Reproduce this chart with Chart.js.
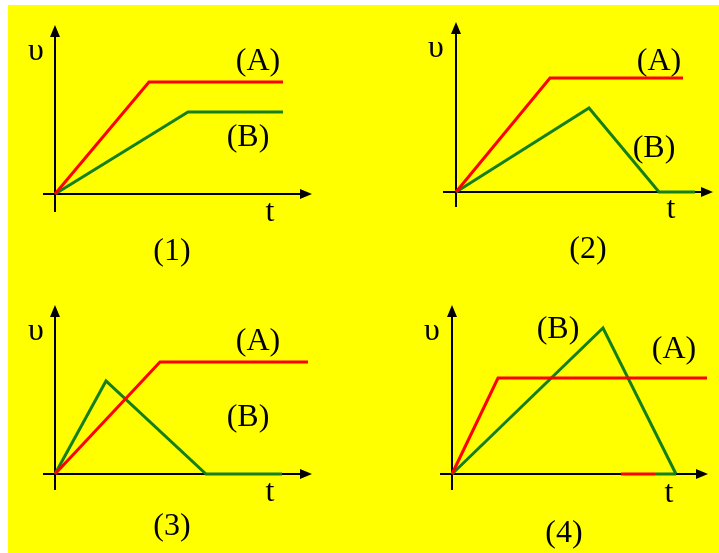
<!DOCTYPE html>
<html lang="en">
<head>
    <meta charset="UTF-8">
    <title>v-t graphs</title>
    <style>
        body {
            margin: 0;
            background-color: #fff;
        }

        .board {
            position: relative;
            width: 719px;
            height: 553px;
            background-color: #fff;
            overflow: hidden;
        }

        .paper {
            position: absolute;
            left: 8px;
            top: 5px;
            right: 0;
            bottom: 0;
            background-color: #ffff00;
        }

        .board canvas {
            position: absolute;
        }
    </style>
</head>
<body>
    <div class="board">
        <div class="paper"></div>
        <canvas id="graph1" width="352" height="275" style="left:8px;top:5px"></canvas>
        <canvas id="graph2" width="359" height="275" style="left:360px;top:5px"></canvas>
        <canvas id="graph3" width="352" height="273" style="left:8px;top:280px"></canvas>
        <canvas id="graph4" width="359" height="273" style="left:360px;top:280px"></canvas>
    </div>

    <script src="https://cdn.jsdelivr.net/npm/chart.js"></script>
    <script>
        // values (arbitrary units)
        const timeA1 = [0, 9.4, 22.8];
        const velA1 = [0, 11.2, 11.2];
        const timeB1 = [0, 13.3, 22.8];
        const velB1 = [0, 8.2, 8.2];

        const timeA2 = [0, 9.4, 22.7];
        const velA2 = [0, 11.4, 11.4];
        const timeB2 = [0, 13.3, 20.3, 23.9];
        const velB2 = [0, 8.4, 0, 0];

        const timeA3 = [0, 10.5, 25.3];
        const velA3 = [0, 11.2, 11.2];
        const timeB3 = [0, 5.1, 15.1, 22.7];
        const velB3 = [0, 9.3, 0, 0];

        const timeA4 = [0, 4.6, 25.5];
        const velA4 = [0, 9.6, 9.6];
        const timeB4 = [0, 15.1, 22.4];
        const velB4 = [0, 14.6, 0];
        // short coloured pieces lying on the t axis in graph 4
        const timeA4tail = [16.9, 20.3];
        const velA4tail = [0, 0];
        const timeB4tail = [20.3, 22.4];
        const velB4tail = [0, 0];

        const axisLabelY = 'υ';
        const axisLabelX = 't';
        const curveNames = ['(A)', '(B)'];
        const graphTitles = ['(1)', '(2)', '(3)', '(4)'];

        const RED = '#ff0000';
        const GREEN = '#15801a';
        const FONT = "32px 'Liberation Serif', 'Times New Roman', serif";
        const UNIT = 10; // px per unit on both axes

        function points(ts, vs) {
            return ts.map((t, i) => ({ x: t, y: vs[i] }));
        }

        function line(ts, vs, color) {
            return {
                data: points(ts, vs),
                borderColor: color,
                borderWidth: 3,
                pointRadius: 0,
                showLine: true,
                tension: 0,
                borderJoinStyle: 'miter',
                borderCapStyle: 'butt'
            };
        }

        // origin = pixel of (0,0) inside each canvas
        const graphs = [
            {
                id: 'graph1', origin: [47, 189],
                axes: { x0: -1.2, x1: 25.7, y0: -1.8, y1: 16.9 },
                sets: [line(timeA1, velA1, RED), line(timeB1, velB1, GREEN)],
                labels: { v: [-1.9, 14.2], A: [20.3, 13.2], B: [19.3, 5.6], t: [21.5, -1.9], title: [11.7, -5.8] }
            },
            {
                id: 'graph2', origin: [96, 187],
                axes: { x0: -1.3, x1: 25.7, y0: -1.5, y1: 17.0 },
                sets: [line(timeA2, velA2, RED), line(timeB2, velB2, GREEN)],
                labels: { v: [-2.0, 14.3], A: [20.3, 13.0], B: [19.8, 4.3], t: [21.5, -1.8], title: [13.2, -5.8] }
            },
            {
                id: 'graph3', origin: [47, 194],
                axes: { x0: -1.2, x1: 25.7, y0: -1.6, y1: 16.9 },
                sets: [line(timeA3, velA3, RED), line(timeB3, velB3, GREEN)],
                labels: { v: [-1.9, 14.2], A: [20.3, 13.2], B: [19.3, 5.6], t: [21.5, -1.9], title: [11.7, -5.3] }
            },
            {
                id: 'graph4', origin: [92, 194],
                axes: { x0: -1.2, x1: 25.6, y0: -1.6, y1: 16.9 },
                sets: [
                    line(timeA4, velA4, RED), line(timeB4, velB4, GREEN),
                    line(timeA4tail, velA4tail, RED), line(timeB4tail, velB4tail, GREEN)
                ],
                labels: { v: [-2.0, 14.2], A: [22.2, 12.4], B: [10.6, 14.4], t: [21.7, -2.0], title: [11.2, -6.0] }
            }
        ];

        const axesPlugin = {
            id: 'axesPlugin',
            beforeDatasetsDraw(chart, args, opts) {
                const ctx = chart.ctx;
                const sx = chart.scales.x, sy = chart.scales.y;
                const a = opts.axes;
                const ox = sx.getPixelForValue(0), oy = sy.getPixelForValue(0);
                const xl = sx.getPixelForValue(a.x0), xr = sx.getPixelForValue(a.x1);
                const yb = sy.getPixelForValue(a.y0), yt = sy.getPixelForValue(a.y1);
                ctx.save();
                ctx.strokeStyle = '#000';
                ctx.fillStyle = '#000';
                ctx.lineWidth = 2;
                ctx.beginPath();
                ctx.moveTo(xl, oy);
                ctx.lineTo(xr - 8, oy);
                ctx.moveTo(ox, yb);
                ctx.lineTo(ox, yt + 8);
                ctx.stroke();
                // arrow heads
                ctx.beginPath();
                ctx.moveTo(xr, oy);
                ctx.lineTo(xr - 12, oy - 5);
                ctx.lineTo(xr - 12, oy + 5);
                ctx.closePath();
                ctx.moveTo(ox, yt);
                ctx.lineTo(ox - 5, yt + 12);
                ctx.lineTo(ox + 5, yt + 12);
                ctx.closePath();
                ctx.fill();
                ctx.restore();
            },
            afterDatasetsDraw(chart, args, opts) {
                const ctx = chart.ctx;
                const sx = chart.scales.x, sy = chart.scales.y;
                const l = opts.labels;
                const put = (text, p) => {
                    ctx.fillText(text, sx.getPixelForValue(p[0]), sy.getPixelForValue(p[1]));
                };
                ctx.save();
                ctx.fillStyle = '#000';
                ctx.font = FONT;
                ctx.textAlign = 'center';
                ctx.textBaseline = 'middle';
                put(axisLabelY, l.v);
                put(axisLabelX, l.t);
                put(curveNames[0], l.A);
                put(curveNames[1], l.B);
                put(opts.title, l.title);
                ctx.restore();
            }
        };

        graphs.forEach((g, i) => {
            const canvas = document.getElementById(g.id);
            const w = canvas.width, h = canvas.height;
            const xMin = -g.origin[0] / UNIT;
            const yMax = g.origin[1] / UNIT;

            new Chart(canvas, {
                type: 'scatter',
                data: { datasets: g.sets },
                plugins: [axesPlugin],
                options: {
                    responsive: false,
                    animation: false,
                    events: [],
                    layout: { padding: 0 },
                    scales: {
                        x: { type: 'linear', display: false, min: xMin, max: xMin + w / UNIT },
                        y: { type: 'linear', display: false, min: yMax - h / UNIT, max: yMax }
                    },
                    plugins: {
                        legend: { display: false },
                        tooltip: { enabled: false },
                        axesPlugin: { axes: g.axes, labels: g.labels, title: graphTitles[i] }
                    }
                }
            });
        });
    </script>
</body>
</html>
